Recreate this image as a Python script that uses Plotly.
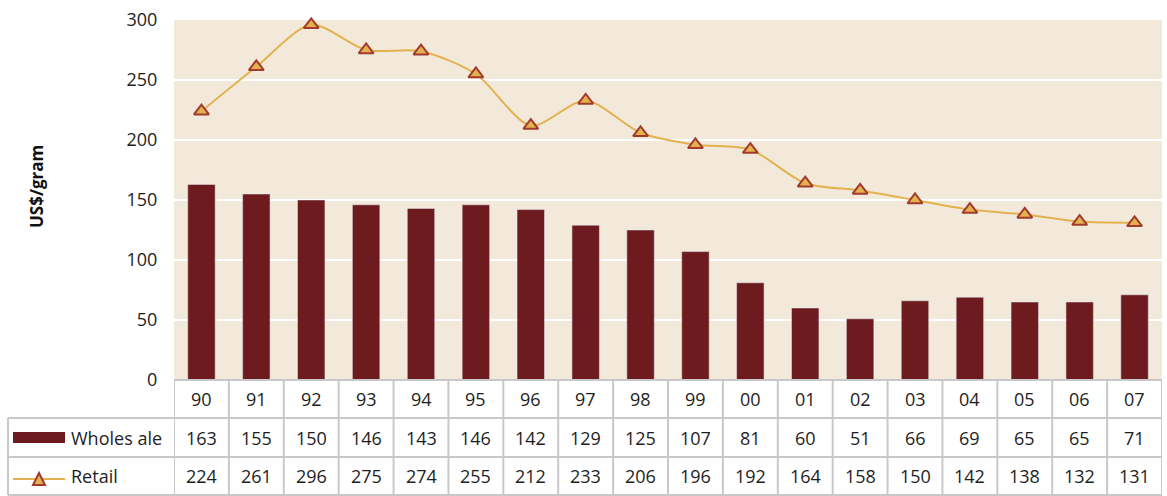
import plotly.graph_objects as go

years = ["90", "91", "92", "93", "94", "95", "96", "97", "98", "99",
         "00", "01", "02", "03", "04", "05", "06", "07"]
wholesale = [163, 155, 150, 146, 143, 146, 142, 129, 125, 107, 81, 60, 51, 66, 69, 65, 65, 71]
retail = [224, 261, 296, 275, 274, 255, 212, 233, 206, 196, 192, 164, 158, 150, 142, 138, 132, 131]
series_names = ["Wholes ale", "Retail"]
y_title = "US$/gram"

BAR = "#6D1B1E"
LINE = "#E3B24E"
MK_EDGE = "#A23A2E"
BG = "#F2E9DB"
GRID_C = "#C8C8C8"
FONT = "Open Sans"

W, H = 1167, 496
L, R, T, B = 174, 5, 20, 116
PH = H - T - B
PW = W - L - R

def py(pix):  # pixel y -> paper y
    return (H - B - pix) / PH

def px(pix):  # pixel x -> paper x
    return (pix - L) / PW

xs = list(range(len(years)))

fig = go.Figure()
fig.add_trace(go.Bar(x=xs, y=wholesale, name=series_names[0], marker_color=BAR,
                     width=0.5, showlegend=False))
fig.add_trace(go.Scatter(x=xs, y=retail, name=series_names[1], mode="lines+markers",
                         line=dict(color=LINE, width=2, shape="spline", smoothing=0.8),
                         marker=dict(symbol="triangle-up", size=13, color=LINE,
                                     line=dict(color=MK_EDGE, width=2)),
                         cliponaxis=False, showlegend=False))

shapes = []
ann = []
n = len(years)
row_y = [380, 418, 457, 495]
shapes.append(dict(type="line", xref="x", yref="paper", x0=-0.5, x1=n - 0.5,
                   y0=py(380), y1=py(380), line=dict(color=GRID_C, width=2)))
for yy in row_y[1:]:
    shapes.append(dict(type="line", xref="paper", yref="paper", x0=px(8), x1=1,
                       y0=py(yy), y1=py(yy), line=dict(color=GRID_C, width=2)))
for i in range(n + 1):
    shapes.append(dict(type="line", xref="x", yref="paper", x0=i - 0.5, x1=i - 0.5,
                       y0=py(380), y1=py(495), line=dict(color=GRID_C, width=2)))
shapes.append(dict(type="line", xref="paper", yref="paper", x0=px(8), x1=px(8),
                   y0=py(418), y1=py(495), line=dict(color=GRID_C, width=2)))
# legend keys
shapes.append(dict(type="rect", xref="paper", yref="paper", x0=px(13), x1=px(65),
                   y0=py(443), y1=py(432), fillcolor=BAR, line=dict(width=0)))
shapes.append(dict(type="line", xref="paper", yref="paper", x0=px(13), x1=px(65),
                   y0=py(479), y1=py(479), line=dict(color=LINE, width=2)))
shapes.append(dict(type="path", xref="paper", yref="paper",
                   path="M {} {} L {} {} L {} {} Z".format(px(33), py(485), px(45), py(485), px(39), py(473)),
                   fillcolor=LINE, line=dict(color=MK_EDGE, width=2)))

fs = 18
TC = "#1e1e1e"
for i, yr in enumerate(years):
    ann.append(dict(x=i, y=py(399), xref="x", yref="paper", text=yr, showarrow=False,
                    xanchor="center", yanchor="middle", font=dict(size=fs, color=TC)))
    ann.append(dict(x=i, y=py(437.5), xref="x", yref="paper", text=str(wholesale[i]),
                    xanchor="center", yanchor="middle", showarrow=False,
                    font=dict(size=fs, color=TC)))
    ann.append(dict(x=i, y=py(476), xref="x", yref="paper", text=str(retail[i]),
                    xanchor="center", yanchor="middle", showarrow=False,
                    font=dict(size=fs, color=TC)))
ann.append(dict(x=px(69), y=py(437.5), xref="paper", yref="paper", text=series_names[0],
                xanchor="left", yanchor="middle", showarrow=False, font=dict(size=fs, color=TC)))
ann.append(dict(x=px(69), y=py(476), xref="paper", yref="paper", text=series_names[1],
                xanchor="left", yanchor="middle", showarrow=False, font=dict(size=fs, color=TC)))
ann.append(dict(x=px(36), y=py(187), xref="paper", yref="paper", text="<b>" + y_title + "</b>",
                xanchor="center", yanchor="middle",
                textangle=-90, showarrow=False, font=dict(size=17, color="#111")))

fig.update_layout(
    width=W, height=H, margin=dict(l=L, r=R, t=T, b=B),
    paper_bgcolor="white", plot_bgcolor=BG,
    font=dict(family=FONT, color=TC),
    shapes=shapes, annotations=ann, bargap=0.5,
    xaxis=dict(range=[-0.5, n - 0.5], showticklabels=False, showgrid=False,
               zeroline=False, fixedrange=True),
    yaxis=dict(range=[0, 300], dtick=50, showgrid=True, gridcolor="white", gridwidth=2,
               zeroline=False, tickfont=dict(size=18, color=TC),
               ticks="outside", ticklen=12, tickcolor="rgba(0,0,0,0)"),
)
fig.write_html("out.html", config={"displayModeBar": False},
               post_script="document.body.style.margin='0';document.documentElement.style.overflow='hidden';")
